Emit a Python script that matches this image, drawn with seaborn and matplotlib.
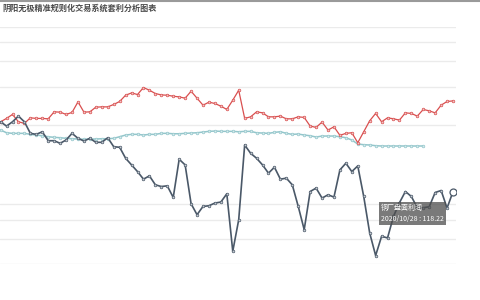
import numpy as np
import pandas as pd
import matplotlib
matplotlib.use("Agg")
import matplotlib.pyplot as plt
from matplotlib.lines import Line2D
import seaborn as sns

# ---------------- data ----------------
TITLE = "阴阳无极精准规则化交易系统套利分析图表"
TOOLTIP_NAME = "铜厂盘面利润"
N_POINTS = 77
dates = pd.bdate_range(end="2020-10-28", periods=N_POINTS).strftime("%Y/%m/%d").tolist()

dark_values = [188.3, 184, 188.3, 194, 188.3, 176.7, 175.7, 178.3, 169.3, 169.3,
               166.7, 170, 176.7, 171.7, 169, 171.7, 167.7, 167.7, 172.3, 163.3,
               162.7, 151.7, 145, 138.3, 130.7, 134, 125, 123.3, 124, 112.3,
               150.7, 145, 106, 95, 103.3, 104, 106.7, 107.7, 116, 58.3,
               90, 165, 156.7, 151.7, 145, 136.7, 142.7, 130.7, 131.7, 125,
               103.3, 80, 118.3, 121.7, 111.7, 115, 112.7, 140, 146.7, 138.3,
               144, 113.3, 76.7, 54, 73.3, 71.7, 93.3, 107, 118.3, 113.3,
               102, 102, 103, 117.3, 119.3, 101.7, 118.22]

red_values = [188.3, 191.7, 195.7, 188.3, 186.7, 192.3, 191.7, 191.7, 191.3, 198.3,
              198, 195.7, 197.7, 208.3, 198, 198.3, 203, 203.3, 203.3, 205.7,
              208.7, 215, 217.3, 215.7, 222.7, 220, 216.7, 215.3, 215, 214,
              213.3, 212, 219, 212, 205, 208, 206.7, 204, 200.7, 210,
              220, 191.7, 193.3, 198.3, 197.3, 193.3, 193.3, 194, 191.3, 191.3,
              193.3, 192.7, 184, 182.7, 188, 180, 183.3, 174.7, 176.7, 177.3,
              167.3, 178.3, 189.3, 196.7, 188.3, 192.3, 191.3, 190, 197.3, 196.7,
              194, 200.7, 199.3, 197.3, 205, 208.7, 209.3]

teal_values = [180, 177.3, 176.7, 176.7, 176.7, 175.7, 175, 174.3, 173.3, 172.7,
               172.3, 171.7, 171.3, 171, 170.7, 171, 171, 171.3, 171.3, 171.7,
               173.3, 175, 175.7, 175.7, 175, 175.7, 175.7, 176.7, 176.7, 176.3,
               176.3, 176.7, 177, 177.3, 178, 178.7, 179, 178.7, 178.7, 178.7,
               178.3, 178.7, 178.7, 177.3, 177, 176.7, 177.7, 178.3, 176.7, 175.7,
               176, 175, 174.3, 173, 174, 174, 174, 173.3, 172.3, 170,
               166, 165.3, 165, 164.3, 164, 164, 164, 164, 164, 164,
               164, 164]

# ---------------- style ----------------
sns.set_style("white")
plt.rcParams["font.family"] = ["Noto Sans CJK SC", "DejaVu Sans"]

RED = "#d94f4f"
TEAL = "#93c6cb"
DARK = "#4a5868"
GRID_TICKS = [283, 268, 249, 223, 185, 106, 90, 71, 46]

fig = plt.figure(figsize=(4.8, 3.0), dpi=100)
ax = fig.add_axes([0.0, 0.12, 0.95, 0.79])

df_dark = pd.DataFrame({"idx": np.arange(len(dark_values)), "v": dark_values})
df_red = pd.DataFrame({"idx": np.arange(len(red_values)), "v": red_values})
df_teal = pd.DataFrame({"idx": np.arange(len(teal_values)), "v": teal_values})

common = dict(marker="o", markersize=1.9, markeredgewidth=0.5, legend=False)
sns.lineplot(data=df_teal, x="idx", y="v", ax=ax, color=TEAL, linewidth=1.1,
             markeredgecolor=TEAL, markerfacecolor="#d6eaec", zorder=3, **common)
sns.lineplot(data=df_red, x="idx", y="v", ax=ax, color=RED, linewidth=0.9,
             markeredgecolor=RED, markerfacecolor="#f2c4c4", zorder=4, **common)
sns.lineplot(data=df_dark, x="idx", y="v", ax=ax, color=DARK, linewidth=1.2,
             markeredgecolor=DARK, markerfacecolor="#c4cad1", zorder=5, **common)

# highlighted last point
last = len(dark_values) - 1
ax.plot([last], [dark_values[last]], marker="o", markersize=5,
        markerfacecolor="white", markeredgecolor=DARK, markeredgewidth=0.9, zorder=6)

ax.set_xlim(-0.1, 76.5)
ax.set_ylim(45.5, 283.5)
ax.set_yticks(GRID_TICKS)
ax.yaxis.grid(True, color="#ebebeb", linewidth=1.0)
ax.xaxis.grid(False)
ax.set_axisbelow(True)
ax.tick_params(left=False, bottom=False, labelleft=False, labelbottom=False)
ax.set_xlabel("")
ax.set_ylabel("")
for s in ax.spines.values():
    s.set_visible(False)

# tooltip
ax.annotate(f"{TOOLTIP_NAME}\n{dates[last]} : {dark_values[last]:.2f}",
            xy=(last, dark_values[last]), xytext=(-72, -12),
            textcoords="offset pixels", ha="left", va="top",
            fontsize=5.0, color="white", linespacing=1.55,
            bbox=dict(boxstyle="square,pad=0.3", fc=(0.3, 0.3, 0.3, 0.75), ec="none"),
            zorder=10)

# title and top border
fig.text(0.004, 0.972, TITLE, fontsize=5.85, fontweight="bold", color="#4a4a4a",
         va="center", ha="left")
fig.add_artist(Line2D([0, 1], [0.998, 0.998], transform=fig.transFigure,
                      color="#9a9a9a", linewidth=1.5))

fig.savefig("out.png", dpi=100)
